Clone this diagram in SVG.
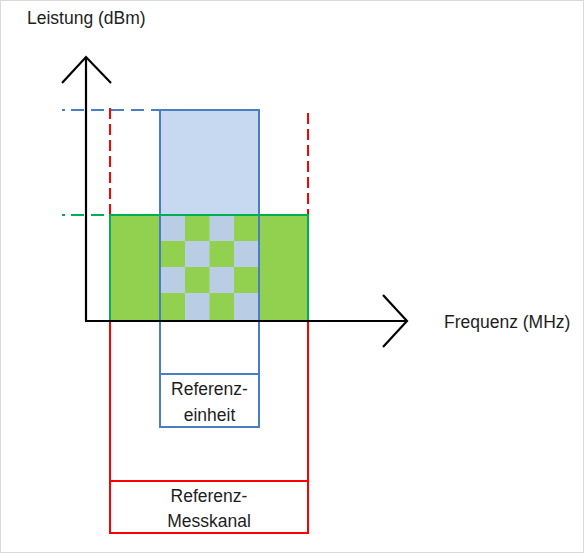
<svg xmlns="http://www.w3.org/2000/svg" width="584" height="553" viewBox="0 0 584 553">
<style>
.t{font-family:"Liberation Sans",Arial,sans-serif;font-size:17.5px;fill:#1e1e1e}
.c{text-anchor:middle}
.ax{stroke:#000;stroke-width:2.2;fill:none}
.bl{stroke:#4A7EC4;stroke-width:2;fill:none}
.rd{stroke:#FF0000;stroke-width:2;fill:none}
.gr{stroke:#00B050;stroke-width:2}
.ck{fill:#B9CDE5}
</style>
<rect x="0.5" y="0.5" width="583" height="552" fill="#fff" stroke="#d9d9d9"/>
<g id="connectors">
  <g id="guides">
    <line x1="62" y1="110" x2="65" y2="110" class="bl"/>
    <line x1="71" y1="110" x2="160" y2="110" class="bl" stroke-dasharray="13 7"/>
    <line x1="62" y1="215" x2="65" y2="215" class="gr"/>
    <line x1="71" y1="215" x2="110" y2="215" class="gr" stroke-dasharray="13 7"/>
    <line x1="110" y1="108" x2="110" y2="215" class="rd" stroke-dasharray="11 5"/>
    <line x1="308" y1="113" x2="308" y2="215" class="rd" stroke-dasharray="11 5"/>
  </g>
</g>
<g id="referenz-messkanal">
  <rect x="110" y="321" width="198" height="212" class="rd"/>
  <line x1="110" y1="481" x2="308" y2="481" class="rd"/>
  <text class="t c" x="209" y="502">Referenz-</text>
  <text class="t c" x="209" y="527">Messkanal</text>
</g>
<g id="referenzeinheit">
  <rect x="160" y="110" width="99" height="105" fill="#C6D9F1"/>
  <rect x="160" y="110" width="99" height="317" class="bl"/>
  <line x1="160" y1="374" x2="259" y2="374" class="bl"/>
  <text class="t c" x="209.5" y="395">Referenz-</text>
  <text class="t c" x="209.5" y="421">einheit</text>
</g>
<g id="leistungsbereich">
  <rect x="110" y="215" width="198" height="106" fill="#92D050" class="gr"/>
  <g id="overlap">
    <rect class="ck" x="161" y="216" width="24" height="25"/>
    <rect class="ck" x="209.5" y="216" width="24.5" height="25"/>
    <rect class="ck" x="185" y="241" width="24.5" height="26"/>
    <rect class="ck" x="234" y="241" width="24" height="26"/>
    <rect class="ck" x="161" y="267" width="24" height="26"/>
    <rect class="ck" x="209.5" y="267" width="24.5" height="26"/>
    <rect class="ck" x="185" y="293" width="24.5" height="27"/>
    <rect class="ck" x="234" y="293" width="24" height="27"/>
  </g>
  <line x1="160" y1="216" x2="160" y2="321" class="bl"/>
  <line x1="259" y1="216" x2="259" y2="321" class="bl"/>
</g>
<g id="achse-y">
  <line x1="86" y1="321" x2="86" y2="57" class="ax"/>
  <polyline points="62,83 86,57 111,83" class="ax"/>
  <text class="t" x="27" y="24">Leistung (dBm)</text>
</g>
<g id="achse-x">
  <line x1="85" y1="321" x2="407" y2="321" class="ax"/>
  <polyline points="383,295 407,321 383,347" class="ax"/>
  <text class="t" x="444" y="328">Frequenz (MHz)</text>
</g>
</svg>
